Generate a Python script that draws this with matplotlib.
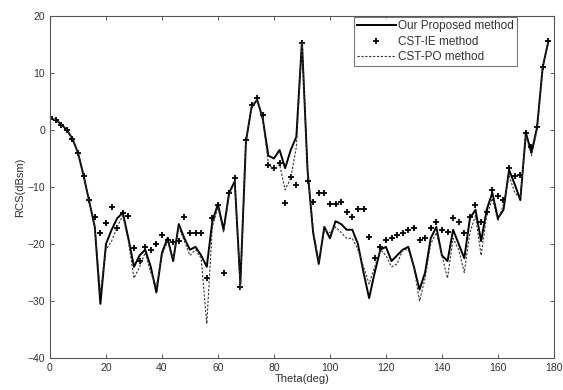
import numpy as np
import matplotlib
matplotlib.use("Agg")
import matplotlib.pyplot as plt

plt.rcParams['font.family'] = ['Liberation Sans', 'DejaVu Sans']

# scattering angle, every 2 degrees
theta = np.arange(0, 180, 2)

# Our proposed method (solid line)
rcs_proposed = [
    2.0, 1.8, 1.0, 0.0, -1.5, -4.0, -8.0, -12.5, -17.0, -30.5,
    -20.0, -17.5, -15.5, -14.5, -19.0, -24.0, -22.0, -21.0, -24.0, -28.5,
    -21.5, -19.0, -23.0, -16.5, -19.0, -21.0, -20.5, -22.0, -24.0, -16.0,
    -13.0, -17.5, -11.0, -9.0, -27.0, -2.0, 4.0, 5.3, 2.0, -4.5,
    -5.0, -3.5, -6.7, -3.5, -1.2, 15.5, -7.0, -18.0, -23.5, -17.0,
    -19.0, -16.0, -16.5, -17.5, -17.5, -20.0, -25.0, -29.5, -25.0, -21.0,
    -20.5, -23.0, -22.0, -21.0, -20.5, -24.0, -28.0, -25.0, -19.0, -17.0,
    -22.0, -23.0, -17.5, -20.0, -22.5, -15.5, -14.0, -19.5, -14.0, -11.0,
    -15.5, -14.0, -7.0, -9.5, -12.3, -0.5, -4.0, 0.5, 11.0, 15.5,
]

# CST-IE method (+ markers)
rcs_cst_ie = [
    2.3, 1.8, 0.8, 0.0, -1.5, -4.0, -8.0, -12.3, -15.3, -18.0,
    -16.3, -13.5, -17.2, -14.6, -15.0, -20.7, -23.0, -20.5, -21.0, -20.0,
    -18.4, -19.3, -19.6, -19.5, -15.2, -18.0, -18.0, -18.0, -26.0, -15.5,
    -13.2, -25.0, -11.0, -8.5, -27.5, -1.8, 4.4, 5.6, 2.6, -6.1,
    -6.6, -5.8, -12.8, -8.2, -9.6, 15.3, -9.0, -12.6, -11.0, -11.0,
    -13.0, -13.0, -12.6, -14.4, -15.2, -13.8, -13.8, -18.8, -22.5, -20.5,
    -19.3, -19.0, -18.5, -18.0, -17.5, -17.2, -19.3, -19.0, -17.2, -16.1,
    -17.5, -17.9, -15.4, -16.1, -18.0, -15.2, -13.2, -16.1, -14.4, -10.5,
    -11.5, -12.3, -6.7, -8.0, -7.9, -0.5, -3.0, 0.5, 11.0, 15.6,
]

# CST-PO method (dashed line)
rcs_cst_po = [
    2.0, 1.8, 1.0, 0.0, -1.5, -4.0, -8.0, -12.5, -17.0, -28.5,
    -21.0, -19.5, -17.0, -15.0, -19.5, -26.0, -24.0, -21.5, -25.0, -27.5,
    -22.0, -19.5, -22.5, -17.0, -19.5, -22.0, -21.0, -22.5, -34.0, -17.0,
    -13.5, -18.0, -11.5, -9.0, -28.0, -2.0, 4.0, 5.3, 2.0, -6.0,
    -7.0, -6.0, -10.5, -8.4, -3.0, 15.5, -7.0, -17.5, -23.0, -17.5,
    -18.0, -17.0, -18.0, -19.0, -19.0, -21.0, -24.0, -27.0, -24.0, -21.0,
    -22.0, -24.0, -23.5, -21.0, -21.0, -24.0, -30.0, -26.0, -20.0, -18.0,
    -22.0, -26.0, -19.0, -21.0, -25.0, -18.0, -15.0, -22.0, -15.0, -12.0,
    -16.0, -13.0, -8.0, -11.0, -12.0, -1.0, -4.5, 0.0, 11.0, 15.5,
]

fig = plt.figure(figsize=(5.63, 3.90), dpi=100, facecolor='white')
ax = fig.add_axes([0.0888, 0.082, 0.895, 0.877])

ax.plot(theta, rcs_proposed, color='black', linewidth=1.4, label='Our Proposed method')
ax.plot(theta, rcs_cst_ie, linestyle='none', marker='+', markersize=4.5,
        markeredgewidth=1.3, color='black', label='CST-IE method')
ax.plot(theta, rcs_cst_po, color='#333333', linestyle=(0, (2, 1.5)), linewidth=0.8,
        label='CST-PO method')

ax.set_xlim(0, 180)
ax.set_ylim(-40, 20)
ax.set_xticks(np.arange(0, 181, 20))
ax.set_yticks(np.arange(-40, 21, 10))
ax.tick_params(direction='in', top=True, right=True, length=3, width=0.6,
               labelsize=7.5, colors='#444444', labelcolor='#333333')
for sp in ax.spines.values():
    sp.set_linewidth(0.8)
    sp.set_color('#555555')

ax.set_xlabel('Theta(deg)', fontsize=8, color='#333333', labelpad=1)
ax.set_ylabel('RCS(dBsm)', fontsize=8, color='#333333', labelpad=2)

leg = ax.legend(loc='upper right', bbox_to_anchor=(0.929, 1.0), fontsize=8.5,
                frameon=True, fancybox=False, edgecolor='#555555',
                handlelength=3.3, handletextpad=0.2, borderpad=0.25,
                labelspacing=0.3, borderaxespad=0.1)
leg.get_frame().set_linewidth(0.8)
for t in leg.get_texts():
    t.set_color('#333333')

fig.savefig('out.png', dpi=100, facecolor='white')
